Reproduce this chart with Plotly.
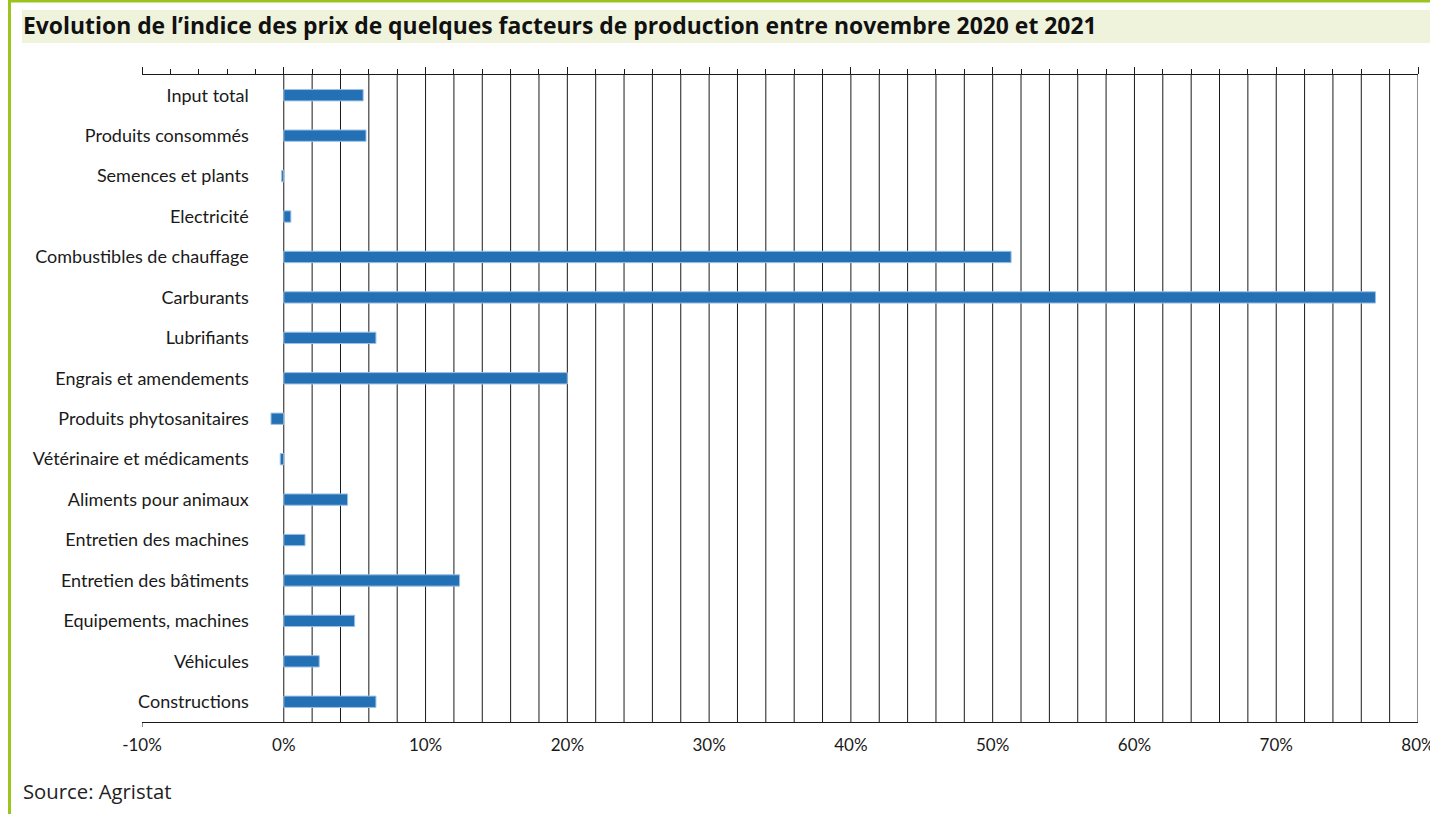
import plotly.graph_objects as go

categories = [
    "Input total", "Produits consommés", "Semences et plants", "Electricité",
    "Combustibles de chauffage", "Carburants", "Lubrifiants", "Engrais et amendements",
    "Produits phytosanitaires", "Vétérinaire et médicaments", "Aliments pour animaux",
    "Entretien des machines", "Entretien des bâtiments", "Equipements, machines",
    "Véhicules", "Constructions",
]
values = [5.6, 5.8, -0.15, 0.5, 51.3, 77.0, 6.5, 20.0, -0.9, -0.25, 4.5, 1.5, 12.4, 5.0, 2.5, 6.5]
tick_vals = [-10, 0, 10, 20, 30, 40, 50, 60, 70, 80]
tick_text = ["-10%", "0%", "10%", "20%", "30%", "40%", "50%", "60%", "70%", "80%"]

W, H = 1430, 814
L, R, T, B = 142, 12, 75, 92
pw, ph = W - L - R, H - T - B
xmin, xmax = -10, 80
n = len(categories)

def px(x):
    return (x - L) / pw

def py(y):
    return (H - B - y) / ph

fig = go.Figure()
fig.add_trace(go.Bar(
    x=values, y=categories, orientation="h",
    marker=dict(color="#2470b5", line=dict(color="#9cc0e4", width=1)),
    width=0.28, showlegend=False,
))
fig.add_trace(go.Scatter(x=[xmin, xmax], y=[categories[0], categories[0]], xaxis="x2",
                         mode="markers", marker=dict(opacity=0), showlegend=False, hoverinfo="skip"))

shapes = []
for g in range(0, 81, 2):
    shapes.append(dict(type="line", xref="x", yref="paper", x0=g, x1=g, y0=0, y1=1,
                       line=dict(color="#1a1a1a", width=1), layer="below"))
# frame decorations
shapes.append(dict(type="rect", xref="paper", yref="paper", x0=px(22), x1=px(1430), y0=py(10), y1=py(43),
                   fillcolor="#eff3dc", line=dict(width=0), layer="below"))
shapes.append(dict(type="rect", xref="paper", yref="paper", x0=px(8), x1=px(11), y0=py(0), y1=py(814),
                   fillcolor="#9cc31e", line=dict(width=0), layer="below"))
shapes.append(dict(type="rect", xref="paper", yref="paper", x0=px(8), x1=px(1430), y0=py(0), y1=py(2.5),
                   fillcolor="#9cc31e", line=dict(width=0), layer="below"))
shapes.append(dict(type="line", xref="x", yref="paper", x0=-10, x1=-10, y0=0, y1=py(727),
                   line=dict(color="#1a1a1a", width=1)))

fig.update_layout(
    width=W, height=H,
    margin=dict(l=L, r=R, t=T, b=B, autoexpand=False),
    paper_bgcolor="white", plot_bgcolor="white",
    shapes=shapes,
    xaxis=dict(range=[xmin, xmax], tickvals=tick_vals, ticktext=tick_text, showgrid=False,
               zeroline=False, showline=True, linecolor="#1a1a1a", linewidth=1, ticks="",
               tickfont=dict(family="Lato", size=17, color="#1a1a1a"), ticklabelstandoff=8,
               ticklabeloverflow="allow", automargin=False),
    xaxis2=dict(range=[xmin, xmax], overlaying="x", side="top", showgrid=False, zeroline=False,
                showline=True, linecolor="#1a1a1a", linewidth=1, showticklabels=False,
                tickmode="linear", tick0=-10, dtick=10, ticks="outside", ticklen=7, tickcolor="#1a1a1a",
                automargin=False,
                minor=dict(tickmode="linear", tick0=-10, dtick=2, ticks="outside", ticklen=5, tickcolor="#1a1a1a")),
    yaxis=dict(categoryorder="array", categoryarray=categories, autorange=False,
               range=[n - 0.5, -0.5], showgrid=False, zeroline=False, showline=False, automargin=False,
               anchor="free", position=(0 - xmin) / (xmax - xmin), ticks="", ticklabelstandoff=35,
               tickfont=dict(family="Lato", size=18, color="#1a1a1a")),
    annotations=[
        dict(text="<b>Evolution de l’indice des prix de quelques facteurs de production entre novembre 2020 et 2021</b>",
             xref="paper", yref="paper", x=px(20.5), y=py(26), xanchor="left", yanchor="middle",
             showarrow=False, font=dict(family="Open Sans", size=22.9, color="#111")),
        dict(text="Source: Agristat", xref="paper", yref="paper", x=px(20.5), y=py(791),
             xanchor="left", yanchor="middle", showarrow=False,
             font=dict(family="Open Sans", size=20.3, color="#222")),
    ],
)

fig.write_html("out.html", config={"displayModeBar": False},
               post_script="document.body.style.margin='0';document.body.style.overflow='hidden';")
